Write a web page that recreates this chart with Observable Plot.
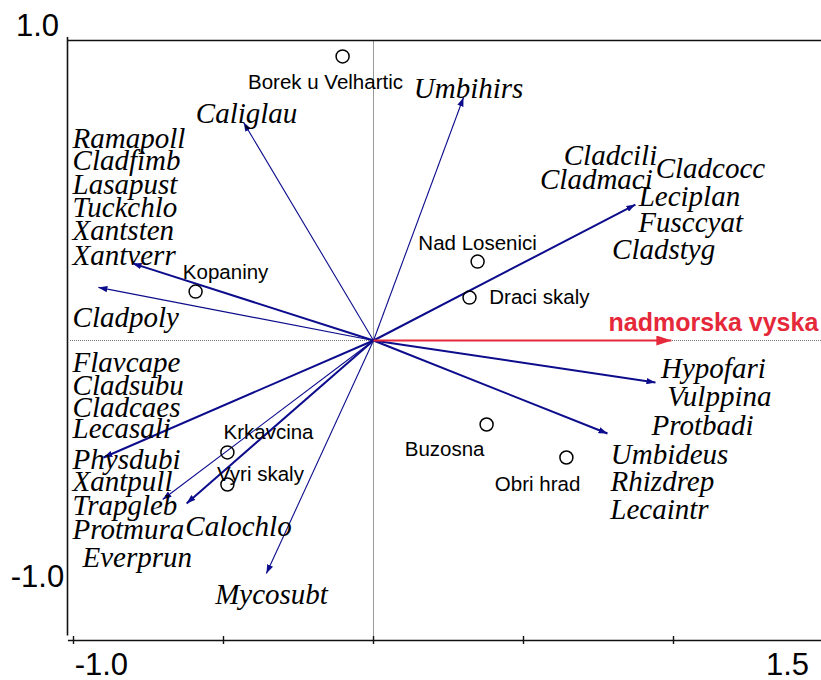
<!DOCTYPE html>
<html><head><meta charset="utf-8">
<script src="https://cdn.jsdelivr.net/npm/d3@7"></script>
<script src="https://cdn.jsdelivr.net/npm/@observablehq/plot@0.6"></script>
<style>body{margin:0;background:#fff} #chart svg{display:block}</style>
</head><body><div id="chart"></div>
<script>
// ---- species arrows (tips, ordination units)
const arrowNames = ["Umbihirs","Caliglau","Leciplan","Xantverr","Cladpoly","Physdubi","Trapgleb","Calochlo2","Mycosubt","Hypofari","Umbideus"];
const arrowX = [0.300,-0.433,0.873,-0.803,-0.917,-0.900,-0.703,-0.623,-0.357,0.940,0.780];
const arrowY = [0.810,0.727,0.453,0.257,0.177,-0.390,-0.530,-0.543,-0.777,-0.140,-0.310];

// ---- environmental variable
const envNames = ["nadmorska vyska"];
const envX = [0.993];
const envY = [0.0];
const envLabelX = [1.133];
const envLabelY = [0.057];

// ---- species labels (left block, start anchored)
const leftLabels = ["Ramapoll","Cladfimb","Lasapust","Tuckchlo","Xantsten","Xantverr","Cladpoly","Flavcape","Cladsubu","Cladcaes","Lecasali","Physdubi","Xantpull","Trapgleb","Protmura","Everprun"];
const leftLabelX = [-1.003,-1.003,-1.003,-1.003,-1.003,-1.003,-1.003,-1.003,-1.003,-1.003,-1.003,-1.003,-1.003,-1.003,-1.003,-0.970];
const leftLabelY = [0.673,0.600,0.520,0.443,0.367,0.283,0.077,-0.073,-0.150,-0.223,-0.293,-0.397,-0.470,-0.550,-0.630,-0.723];

// ---- species labels (centred)
const midLabels = ["Calochlo","Mycosubt","Caliglau","Umbihirs","Cladcili","Cladcocc","Cladmaci","Leciplan","Fusccyat","Cladstyg","Hypofari","Vulppina","Protbadi","Umbideus","Rhizdrep","Lecaintr"];
const midLabelX = [-0.450,-0.340,-0.423,0.317,0.790,1.123,0.743,1.053,1.057,0.967,1.133,1.153,1.097,0.987,0.963,0.953];
const midLabelY = [-0.620,-0.847,0.757,0.840,0.617,0.573,0.537,0.480,0.393,0.303,-0.093,-0.187,-0.283,-0.380,-0.470,-0.563];

// ---- sites
const siteNames = ["Borek u Velhartic","Nad Losenici","Draci skaly","Kopaniny","Krkavcina","Vyri skaly","Buzosna","Obri hrad"];
const siteX = [-0.103,0.347,0.320,-0.593,-0.487,-0.487,0.377,0.643];
const siteY = [0.947,0.263,0.143,0.163,-0.373,-0.480,-0.280,-0.390];
const siteLabelX = [-0.160,0.347,0.553,-0.493,-0.350,-0.377,0.237,0.547];
const siteLabelY = [0.860,0.323,0.143,0.227,-0.307,-0.447,-0.363,-0.480];

// ---- axis
const xTicks = [-1.0,-0.5,0,0.5,1.0];
const tickLabelText = ["1.0","-1.0","-1.0","1.5"];
const tickLabelX = [-1.120,-1.120,-0.907,1.380];
const tickLabelY = [1.047,-0.790,-1.083,-1.083];

// ---- tables
const arrows = arrowNames.map((name,i)=>({name, x:arrowX[i], y:arrowY[i]}));
const env = envNames.map((name,i)=>({name, x:envX[i], y:envY[i], lx:envLabelX[i], ly:envLabelY[i]}));
const left = leftLabels.map((t,i)=>({t, x:leftLabelX[i], y:leftLabelY[i]}));
const mid = midLabels.map((t,i)=>({t, x:midLabelX[i], y:midLabelY[i]}));
const sites = siteNames.map((t,i)=>({t, x:siteX[i], y:siteY[i], lx:siteLabelX[i], ly:siteLabelY[i]}));
const tickLabels = tickLabelText.map((t,i)=>({t, x:tickLabelX[i], y:tickLabelY[i]}));

// ---- styles
const thick = new Set(["Leciplan","Xantverr","Physdubi","Calochlo2","Umbideus","Hypofari"]);
const navy = "#0c0c8c";
const red = "#e5283a";
const S = 300; // px per unit

function head(len, half) {
  return (color, context) => {
    const ns = "http://www.w3.org/2000/svg";
    const m = context.document.createElementNS(ns, "marker");
    m.setAttribute("viewBox", `${-len} ${-half} ${len} ${2*half}`);
    m.setAttribute("markerWidth", len);
    m.setAttribute("markerHeight", 2*half);
    m.setAttribute("markerUnits", "userSpaceOnUse");
    m.setAttribute("refX", 0);
    m.setAttribute("refY", 0);
    m.setAttribute("orient", "auto");
    m.setAttribute("fill", color);
    m.setAttribute("stroke", "none");
    const p = context.document.createElementNS(ns, "path");
    p.setAttribute("d", `M${-len},${-half}L0,0L${-len},${half}Z`);
    m.appendChild(p);
    return m;
  };
}

const chart = Plot.plot({
  width: 821, height: 680,
  marginLeft: 0, marginRight: 0, marginTop: 0, marginBottom: 0,
  x: {domain: [-373/S, 448/S], axis: null},
  y: {domain: [-340/S, 340/S], axis: null},
  marks: [
    // zero lines
    Plot.ruleX([0], {y1: -1, y2: 1, stroke: "#9a9a9a", strokeWidth: 1}),
    Plot.ruleY([0], {x1: -1.01, x2: 1.5, stroke: "#777", strokeWidth: 1, strokeDasharray: "1,1"}),
    // frame
    Plot.ruleY([1], {x1: -1.017, x2: 1.5, stroke: "#111", strokeWidth: 1.6}),
    Plot.ruleY([-1], {x1: -1.017, x2: 1.5, stroke: "#111", strokeWidth: 1.6}),
    Plot.ruleX([-1.02], {y1: -0.985, y2: 1.01, stroke: "#111", strokeWidth: 1.6}),
    Plot.ruleX(xTicks, {y1: -1 - 4/S, y2: -1 + 4/S, stroke: "#111", strokeWidth: 1.4}),
    // species arrows
    Plot.link(arrows, {x1: () => 0, y1: () => 0, x2: "x", y2: "y", stroke: navy,
      strokeWidth: d => thick.has(d.name) ? 2 : 1.1, markerEnd: head(9, 3.2)}),
    // env arrow
    Plot.link(env, {x1: () => 0, y1: () => 0, x2: "x", y2: "y", stroke: red, strokeWidth: 2.2, markerEnd: head(15, 5)}),
    Plot.text(env, {x: "lx", y: "ly", text: "name", fill: red, fontSize: 25, fontWeight: "bold", fontFamily: "Liberation Sans, Arial, sans-serif", textAnchor: "middle"}),
    // sites
    Plot.dot(sites, {x: "x", y: "y", r: 6.5, stroke: "#000", strokeWidth: 1.5, fill: "none"}),
    Plot.text(sites, {x: "lx", y: "ly", text: "t", fill: "#000", fontSize: 20.5, fontFamily: "Liberation Sans, Arial, sans-serif", textAnchor: "middle"}),
    // species labels
    Plot.text(left, {x: "x", y: "y", text: "t", fill: "#000", fontSize: 29, fontStyle: "italic", fontFamily: "Liberation Serif, Times New Roman, serif", textAnchor: "start"}),
    Plot.text(mid, {x: "x", y: "y", text: "t", fill: "#000", fontSize: 29, fontStyle: "italic", fontFamily: "Liberation Serif, Times New Roman, serif", textAnchor: "middle"}),
    // axis labels
    Plot.text(tickLabels, {x: "x", y: "y", text: "t", fill: "#000", fontSize: 31, fontFamily: "Liberation Sans, Arial, sans-serif", textAnchor: "middle"})
  ]
});
document.getElementById("chart").appendChild(chart);
</script></body></html>
